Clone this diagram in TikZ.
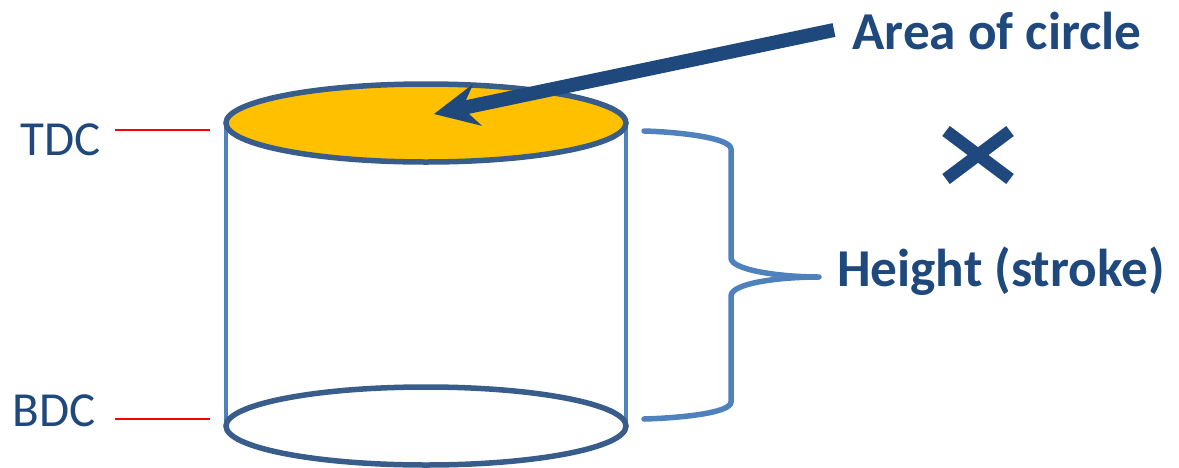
\documentclass[tikz,border=0pt]{standalone}
\usepackage{fontspec}
\setmainfont{Carlito}
\usetikzlibrary{shapes.geometric,arrows.meta,backgrounds}
\definecolor{navyblue}{HTML}{1F497D}
\definecolor{sideblue}{HTML}{4F81BD}
\definecolor{rimblue}{HTML}{385D8A}
\definecolor{topfill}{HTML}{FFC000}

\begin{document}
\begin{tikzpicture}[
    x=1pt, y=-1pt,
    rim/.style={ellipse, draw=rimblue, line width=5.5pt, minimum width=400pt, minimum height=78pt, inner sep=0pt, outer sep=0pt},
    side/.style={sideblue, line width=3.5pt},
    bold label/.style={text=navyblue, font=\fontsize{53.3}{58}\selectfont\bfseries, inner sep=0pt},
    end label/.style={text=navyblue, font=\fontsize{49}{54}\selectfont, inner sep=0pt},
    marker/.style={red, line width=1.3pt},
    bracket/.style={sideblue, line width=5.5pt, line join=round, line cap=round},
    times/.style={navyblue, line width=12.5pt},
    arrow/.style={-{Stealth[length=44pt,width=42pt,inset=15pt]}, navyblue, line width=14pt}
]
    \useasboundingbox (0,0) rectangle (1179,467);

    \node[rim, fill=white] (bottom) at (426,426) {};
    \node[rim, fill=topfill] (top) at (426,123) {};
    \begin{scope}[on background layer]
        \draw[side] (top.west) -- (bottom.west);
        \draw[side] (top.east) -- (bottom.east);
    \end{scope}

    \node[end label] (tdc) at (61,140) {TDC};
    \node[end label] (bdc) at (54,411) {BDC};
    \coordinate (tdcend) at (210,130);
    \coordinate (bdcend) at (210,419);
    \draw[marker] (115,130) -- (tdcend);
    \draw[marker] (115,419) -- (bdcend);

    \node[bold label] (area) at (997,31) {Area of circle};
    \node[bold label] (height) at (1001,271) {Height (stroke)};

    \coordinate (tail) at (834,30);
    \coordinate (tip) at (434,114);
    \draw[arrow] (tail) -- (tip);

    % brace
    \draw[bracket] (644,131) .. controls (680,132) and (731,138) .. (731,149)
        -- (731,258) .. controls (731,270) and (780,277) .. (819,277)
        .. controls (780,277) and (731,283) .. (731,296)
        -- (731,402) .. controls (731,413) and (680,418) .. (644,419);

    % times sign
    \draw[times] (946,131) -- (1010,179);
    \draw[times] (946,179) -- (1010,131);
\end{tikzpicture}
\end{document}
